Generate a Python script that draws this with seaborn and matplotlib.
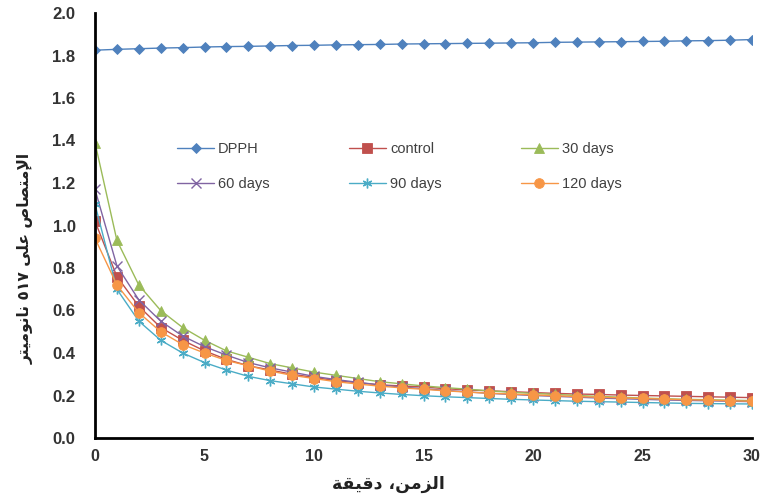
import matplotlib
matplotlib.use("Agg")
import matplotlib.pyplot as plt
import seaborn as sns
import pandas as pd

# Time axis (minutes) and absorbance readings at 517 nm
minutes = list(range(31))

dpph = [1.825, 1.829, 1.832, 1.835, 1.837, 1.840, 1.842, 1.843, 1.845, 1.847,
        1.848, 1.850, 1.851, 1.852, 1.854, 1.855, 1.856, 1.857, 1.858, 1.859,
        1.860, 1.862, 1.863, 1.864, 1.865, 1.866, 1.867, 1.869, 1.870, 1.872, 1.875]
control = [1.02, 0.76, 0.62, 0.52, 0.46, 0.41, 0.37, 0.34, 0.32, 0.30,
           0.285, 0.27, 0.26, 0.25, 0.245, 0.24, 0.232, 0.226, 0.222, 0.218,
           0.214, 0.21, 0.207, 0.205, 0.202, 0.20, 0.198, 0.196, 0.194, 0.192, 0.19]
days30 = [1.39, 0.93, 0.72, 0.60, 0.52, 0.46, 0.41, 0.38, 0.35, 0.33,
          0.31, 0.295, 0.28, 0.265, 0.255, 0.245, 0.237, 0.23, 0.222, 0.215,
          0.21, 0.205, 0.20, 0.196, 0.192, 0.188, 0.185, 0.182, 0.18, 0.178, 0.176]
days60 = [1.17, 0.81, 0.65, 0.55, 0.48, 0.43, 0.39, 0.355, 0.33, 0.31,
          0.29, 0.275, 0.262, 0.25, 0.24, 0.232, 0.224, 0.217, 0.21, 0.205,
          0.20, 0.196, 0.192, 0.188, 0.185, 0.182, 0.179, 0.177, 0.175, 0.173, 0.171]
days90 = [1.10, 0.70, 0.55, 0.46, 0.40, 0.355, 0.32, 0.29, 0.27, 0.255,
          0.24, 0.23, 0.22, 0.212, 0.205, 0.199, 0.194, 0.19, 0.186, 0.182,
          0.179, 0.176, 0.173, 0.171, 0.169, 0.167, 0.165, 0.163, 0.162, 0.161, 0.16]
days120 = [0.94, 0.72, 0.59, 0.50, 0.44, 0.40, 0.365, 0.34, 0.315, 0.295,
           0.28, 0.265, 0.254, 0.244, 0.236, 0.229, 0.222, 0.216, 0.211, 0.207,
           0.203, 0.199, 0.195, 0.192, 0.189, 0.186, 0.183, 0.18, 0.178, 0.175, 0.173]

series_names = ["DPPH", "control", "30 days", "60 days", "90 days", "120 days"]
series_values = [dpph, control, days30, days60, days90, days120]
colors = ["#4F81BD", "#C0504D", "#9BBB59", "#8064A2", "#4BACC6", "#F79646"]
markers = ["D", "s", "^", "x", (6, 2, 0), "o"]
marker_sizes = [5.5, 7, 7, 7, 7, 7]

x_ticks = [0, 5, 10, 15, 20, 25, 30]
y_ticks = [0.0, 0.2, 0.4, 0.6, 0.8, 1.0, 1.2, 1.4, 1.6, 1.8, 2.0]

# Arabic labels in presentation forms, visual (left-to-right) order
x_label = "\uFE94\uFED8\uFEF4\uFED7\uFEA9 \u060C\uFEE6\uFEE3\uFEB0\uFEDF\uFE8D"
y_label = ("\uFEAE\uFE98\uFEF4\uFEE3\uFEEE\uFEE7\uFE8E\uFEE7 "
           "\u0665\u0661\u0667 "
           "\uFEF0\uFEE0\uFECB "
           "\uFEB9\uFE8E\uFEBC\uFE98\uFEE3\uFEF9\uFE8D")

sns.set_style("white")
plt.rcParams["font.family"] = ["Liberation Sans", "DejaVu Sans"]

frames = []
for name, vals in zip(series_names, series_values):
    frames.append(pd.DataFrame({"minute": minutes, "absorbance": vals, "series": name}))
df = pd.concat(frames, ignore_index=True)

fig = plt.figure(figsize=(7.64, 5.04), dpi=100)
ax = fig.add_axes([95 / 764, 66 / 504, (752 - 95) / 764, (438 - 13) / 504])

handles = {}
for name, col, mk, ms in zip(series_names, colors, markers, marker_sizes):
    sub = df[df["series"] == name]
    sns.lineplot(data=sub, x="minute", y="absorbance", ax=ax, color=col,
                 marker=mk, markersize=ms, linewidth=1.0,
                 markeredgecolor=col,
                 markeredgewidth=1.0 if mk in ("x", (6, 2, 0)) else 0.6,
                 label=name, estimator=None, sort=False)
    handles[name] = ax.get_lines()[-1]

ax.set_xlim(0, 30)
ax.set_ylim(0, 2.0)
ax.set_xticks(x_ticks)
ax.set_yticks(y_ticks)
ax.set_xticklabels([str(t) for t in x_ticks])
ax.set_yticklabels([f"{v:.1f}" for v in y_ticks])
for lab in ax.get_xticklabels():
    lab.set_fontweight("bold")
    lab.set_fontsize(11.5)
    lab.set_color("#333333")
for lab in ax.get_yticklabels():
    lab.set_fontweight("bold")
    lab.set_fontsize(12)
    lab.set_color("#333333")

for side in ("top", "right"):
    ax.spines[side].set_visible(False)
for side in ("left", "bottom"):
    ax.spines[side].set_color("black")
    ax.spines[side].set_linewidth(2.0)
ax.tick_params(axis="both", direction="in", length=5, width=2, color="black")
ax.tick_params(axis="x", pad=8)
ax.tick_params(axis="y", pad=14)

ax.set_xlabel(x_label, fontsize=12.5, fontweight="bold", family=["DejaVu Sans"],
              color="#222222")
ax.set_ylabel(y_label, fontsize=11.2, fontweight="bold", family=["DejaVu Sans"],
              color="#222222")
ax.xaxis.set_label_coords((388 - 95) / 657, (438 - 475) / 425)
ax.yaxis.set_label_coords((34 - 95) / 657, (438 - 258) / 425)

# Row-wise legend: matplotlib fills columns first, so interleave the entries
legend_order = ["DPPH", "60 days", "control", "90 days", "30 days", "120 days"]
leg = ax.legend([handles[n] for n in legend_order], legend_order,
                ncol=3, frameon=False, fontsize=10.5, loc="upper left",
                bbox_to_anchor=(170 / 764, 1 - 135 / 504), bbox_transform=fig.transFigure,
                borderpad=0, handlelength=2.5, handletextpad=0.3,
                columnspacing=5.45, labelspacing=1.4)
for t in leg.get_texts():
    t.set_color("#404040")

fig.savefig("out.png", dpi=100)
